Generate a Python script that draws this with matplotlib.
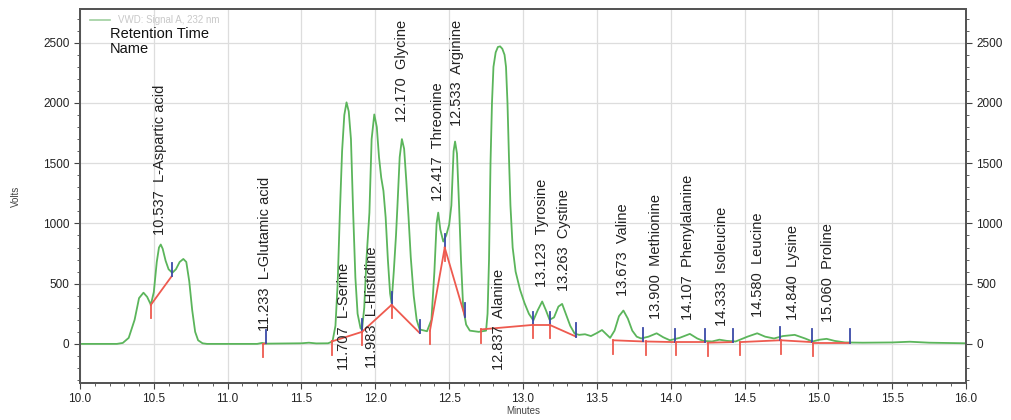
import matplotlib
matplotlib.use("Agg")
import matplotlib.pyplot as plt
from matplotlib.ticker import MultipleLocator

# signal trace (minutes, volts)
trace_t = [10.00, 10.25, 10.29, 10.33, 10.37, 10.40, 10.43, 10.455, 10.48, 10.50,
           10.52, 10.535, 10.547, 10.56, 10.58, 10.60, 10.625, 10.65, 10.675, 10.70,
           10.72, 10.74, 10.76, 10.78, 10.80, 10.83, 10.86, 11.20, 11.233, 11.26,
           11.50, 11.55, 11.60, 11.68,
           11.71, 11.73, 11.745, 11.76, 11.775, 11.79, 11.805, 11.82, 11.835, 11.85,
           11.865, 11.88, 11.90, 11.91,
           11.925, 11.94, 11.96, 11.975, 11.993, 12.01, 12.025, 12.04, 12.055, 12.07,
           12.085, 12.10, 12.11,
           12.125, 12.14, 12.15, 12.165, 12.18, 12.195, 12.21, 12.225, 12.24, 12.26,
           12.28, 12.30,
           12.35, 12.38, 12.40, 12.415, 12.426, 12.44, 12.46, 12.48, 12.50, 12.515,
           12.53, 12.54, 12.553, 12.567, 12.58, 12.595, 12.615, 12.64,
           12.70, 12.75, 12.76, 12.77, 12.78, 12.79, 12.80, 12.815, 12.83, 12.845,
           12.86, 12.875, 12.885, 12.895, 12.905, 12.915, 12.93, 12.95, 12.98, 13.01,
           13.04, 13.07,
           13.10, 13.13, 13.155, 13.18, 13.21, 13.24, 13.265, 13.29, 13.32,
           13.35, 13.38, 13.42, 13.46, 13.50, 13.535, 13.565, 13.59, 13.62, 13.65,
           13.68, 13.71, 13.74, 13.77, 13.80, 13.85, 13.905, 13.95, 13.995, 14.06,
           14.13, 14.18, 14.22, 14.28, 14.33, 14.38, 14.44, 14.52, 14.586, 14.64,
           14.70, 14.76, 14.84, 14.91, 14.96, 15.01, 15.056, 15.11, 15.18, 15.30,
           15.50, 15.62, 15.75, 16.00]
trace_v = [0, 0, 8, 50, 200, 380, 425, 390, 325, 430,
           680, 800, 825, 790, 690, 620, 590, 620, 680, 705,
           680, 520, 280, 100, 30, 5, 0, 0, 8, 2,
           5, 10, 4, 5,
           20, 150, 500, 1090, 1600, 1900, 2005, 1930, 1700, 1090,
           550, 250, 130, 120,
           300, 700, 1090, 1700, 1905, 1800, 1550, 1380, 1270, 1050,
           700, 420, 340,
           600, 900, 1150, 1550, 1700, 1620, 1350, 1050, 720, 400,
           200, 120,
           105, 200, 600, 1000, 1090, 950, 850, 900, 990, 1150,
           1600, 1680, 1580, 1150, 700, 300, 160, 110,
           100, 110, 250, 700, 1500, 2000, 2300, 2420, 2465, 2470,
           2450, 2400, 2300, 2000, 1550, 1150, 800, 600, 450, 340,
           250, 195,
           280, 352, 280, 200, 220, 310, 332, 250, 150,
           85, 75, 80, 65, 90, 115, 80, 50, 110, 230,
           277, 210, 110, 60, 45, 60, 88, 55, 30, 50,
           83, 45, 25, 20, 35, 25, 20, 60, 88, 60,
           45, 65, 75, 45, 20, 35, 42, 25, 12, 10,
           12, 18, 10, 5]

# peak table
ret_times = ["10.537", "11.233", "11.707", "11.983", "12.170", "12.417", "12.533",
             "12.837", "13.123", "13.263", "13.673", "13.900", "14.107", "14.333",
             "14.580", "14.840", "15.060"]
names = ["L-Aspartic acid", "L-Glutamic acid", "L-Serine", "L-Histidine", "Glycine",
         "Threonine", "Arginine", "Alanine", "Tyrosine", "Cystine", "Valine",
         "Methionine", "Phenylalanine", "Isoleucine", "Leucine", "Lysine", "Proline"]
# integration baseline: start / end of each peak
base_t0 = [10.48, 11.24, 11.705, 11.91, 12.11, 12.37, 12.47, 12.715, 13.07, 13.18,
           13.61, 13.83, 14.035, 14.25, 14.47, 14.745, 14.965]
base_v0 = [324, 0, 20, 100, 324, 110, 800, 120, 158, 158, 30, 20, 15, 10, 15, 30, 10]
base_t1 = [10.62, 11.26, 11.91, 12.11, 12.30, 12.47, 12.607, 13.07, 13.18, 13.36,
           13.815, 14.03, 14.23, 14.42, 14.74, 14.955, 15.215]
base_v1 = [560, 5, 100, 324, 91, 800, 227, 158, 158, 60, 20, 15, 15, 15, 30, 15, 10]

# label placement (layout only)
label_x = [10.54, 11.25, 11.79, 11.98, 12.18, 12.425, 12.55, 12.84, 13.13, 13.28,
           13.68, 13.90, 14.12, 14.35, 14.59, 14.83, 15.065]
label_y = [900, 110, -215, -200, 1840, 1190, 1810, -215, 470, 440, 400, 210, 200,
           150, 220, 200, 180]

green = "#5bb55b"
red = "#ee5a4f"
blue = "#3a4aa8"

plt.rcParams["font.family"] = ["Liberation Sans", "DejaVu Sans"]

fig = plt.figure(figsize=(10.11, 4.2), dpi=100)
ax = fig.add_axes([0.0791, 0.088, 0.8764, 0.8905])

ax.plot(trace_t, trace_v, color=green, lw=1.3, zorder=3)

tick_len = 110
for i in range(len(names)):
    ax.plot([base_t0[i], base_t1[i]], [base_v0[i], base_v1[i]], color=red, lw=1.3, zorder=4)
    ax.plot([base_t0[i], base_t0[i]], [base_v0[i], base_v0[i] - tick_len], color=red, lw=1.3, zorder=4)
    ax.plot([base_t1[i], base_t1[i]], [base_v1[i], base_v1[i] + tick_len], color=blue, lw=1.3, zorder=4)
    ax.text(label_x[i], label_y[i], ret_times[i] + "  " + names[i], rotation=90,
            ha="center", va="bottom", fontsize=10.5, color="#222222", zorder=5)

ax.set_xlim(10.0, 16.0)
ax.set_ylim(-325, 2780)
ax.xaxis.set_major_locator(MultipleLocator(0.5))
ax.xaxis.set_minor_locator(MultipleLocator(0.1))
ax.yaxis.set_major_locator(MultipleLocator(500))
ax.yaxis.set_minor_locator(MultipleLocator(100))
ax.grid(True, which="major", color="#dddddd", lw=0.9, zorder=0)
ax.tick_params(which="both", direction="out", labelsize=8.5, colors="#444444",
               labelcolor="#222222")
ax.tick_params(which="major", length=4)
ax.tick_params(which="minor", length=2)
ax.xaxis.set_major_formatter(plt.FormatStrFormatter("%.1f"))
for s in ax.spines.values():
    s.set_color("#555555")
    s.set_linewidth(1.4)

ax2 = ax.twinx()
ax2.set_ylim(ax.get_ylim())
ax2.yaxis.set_major_locator(MultipleLocator(500))
ax2.yaxis.set_minor_locator(MultipleLocator(100))
ax2.tick_params(which="both", direction="out", labelsize=8.5, colors="#444444",
                labelcolor="#222222")
ax2.tick_params(which="major", length=4)
ax2.tick_params(which="minor", length=2)
for s in ax2.spines.values():
    s.set_color("#555555")
    s.set_linewidth(1.4)

ax.set_xlabel("Minutes", fontsize=7, color="#444444", labelpad=0.5)
ax.set_ylabel("Volts", fontsize=7, color="#444444", labelpad=16)

# legend-like header
ax.plot([10.07, 10.2], [2690, 2690], color="#9fd09f", lw=1.2, zorder=5)
ax.text(10.26, 2690, "VWD: Signal A, 232 nm", fontsize=7, color="#c8c8c8",
        va="center", ha="left", zorder=5)
ax.text(10.2, 2570, "Retention Time", fontsize=10.5, color="#111111", va="center", zorder=5)
ax.text(10.2, 2445, "Name", fontsize=10.5, color="#111111", va="center", zorder=5)

fig.savefig("out.png", dpi=100)
